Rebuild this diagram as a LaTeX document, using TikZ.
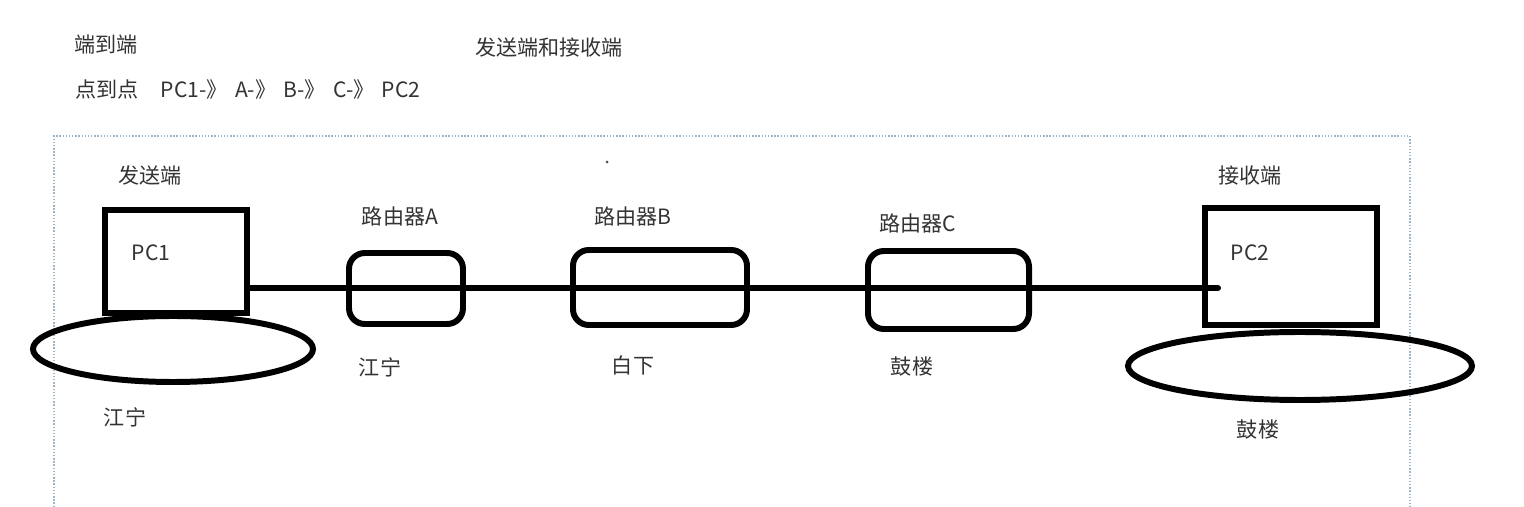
\documentclass[tikz,border=0pt]{standalone}
\usepackage{fontspec}
\newfontfamily\cjk{Noto Sans CJK SC}
\definecolor{frameblue}{HTML}{9FB6C8}
\tikzset{
    txt/.style={font=\cjk\fontsize{12}{14}\selectfont, text=black!80, inner sep=0pt},
    pcbox/.style={draw, line width=3.4pt, inner sep=0pt},
    router/.style={draw, line width=3.4pt, rounded corners=9pt, inner sep=0pt},
    area/.style={draw, ellipse, line width=3.4pt, inner sep=0pt},
    wire/.style={line width=3.4pt, line cap=round},
    selframe/.style={frameblue, densely dotted, line width=0.8pt}
}
\usetikzlibrary{shapes.geometric}
\newcommand{\flecha}{-》\hspace{0.35em}}
\begin{document}
\begin{tikzpicture}
        \useasboundingbox (0,0) rectangle (30.48,-10.14);
        % ~~~~ Texto superior ~~~~ %
        \node[txt] (e2e) at (2.12,-0.9) {端到端};
        \node[txt, anchor=west] (p2p) at (1.5,-1.78)
            {点到点\hspace{1.05em}PC1\flecha A\flecha B\flecha C\flecha PC2};
        \node[txt] (sr) at (10.98,-0.94) {发送端和接收端};

        % ~~~~ Marco ~~~~ %
        \draw[selframe] (1.08,-10.14) -- (1.08,-2.72) -- (28.2,-2.72) -- (28.2,-10.14);
        \fill[black!70] (12.14,-3.24) circle (0.03);

        % ~~~~ Equipos ~~~~ %
        \node[pcbox, minimum width=2.84cm, minimum height=2.06cm] (pc1) at (3.52,-5.23) {};
        \node[area, minimum width=5.6cm, minimum height=1.32cm] (z1) at (3.46,-6.98) {};
        \node[router, minimum width=2.28cm, minimum height=1.42cm] (ra) at (8.12,-5.77) {};
        \node[router, minimum width=3.48cm, minimum height=1.5cm] (rb) at (13.2,-5.75) {};
        \node[router, minimum width=3.22cm, minimum height=1.56cm] (rc) at (18.97,-5.8) {};
        \node[pcbox, minimum width=3.44cm, minimum height=2.34cm] (pc2) at (25.82,-5.33) {};
        \node[area, minimum width=6.88cm, minimum height=1.36cm] (z2) at (26.0,-7.32) {};

        % ~~~~ Enlace ~~~~ %
        \coordinate (fin) at (24.36,-5.76);
        \draw[wire] (pc1.east |- fin) -- (fin);

        % ~~~~ Etiquetas ~~~~ %
        \node[txt] (l1) at (3.0,-3.5) {发送端};
        \node[txt] (n1) at (3.02,-5.06) {PC1};
        \node[txt] (a1) at (2.5,-8.34) {江宁};
        \node[txt] (la) at (8.0,-4.32) {路由器A};
        \node[txt] (aa) at (7.6,-7.34) {江宁};
        \node[txt] (lb) at (12.66,-4.32) {路由器B};
        \node[txt] (ab) at (12.66,-7.3) {白下};
        \node[txt] (lc) at (18.36,-4.46) {路由器C};
        \node[txt] (ac) at (18.24,-7.34) {鼓楼};
        \node[txt] (l2) at (25.0,-3.52) {接收端};
        \node[txt] (n2) at (25.0,-5.06) {PC2};
        \node[txt] (a2) at (25.16,-8.6) {鼓楼};
    \end{tikzpicture}
\end{document}
